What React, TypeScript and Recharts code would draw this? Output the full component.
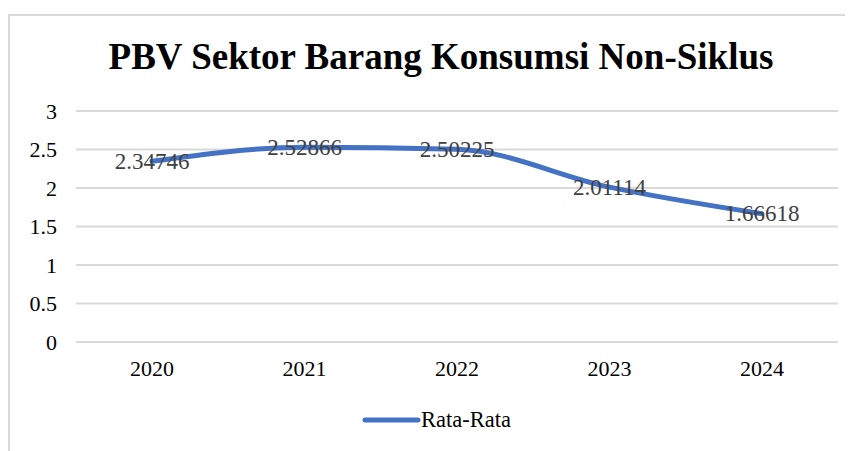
import { LineChart, Line, XAxis, YAxis, CartesianGrid, LabelList } from "recharts";

// Data
const years = ["2020", "2021", "2022", "2023", "2024"];
const rataRata = [2.34746, 2.52866, 2.50225, 2.01114, 1.66618];
const yTicks = [0, 0.5, 1, 1.5, 2, 2.5, 3];

const data = years.map((year, i) => ({ year, value: rataRata[i] }));

const FONT = "'Liberation Serif', 'Times New Roman', serif";
const BLUE = "#4472C4";

const PointLabel = (props: any) => {
  const { x, y, value } = props;
  return (
    <text
      x={x}
      y={y}
      textAnchor="middle"
      dominantBaseline="central"
      fill="#404040"
      fontSize={23}
      fontFamily={FONT}
    >
      {value}
    </text>
  );
};

const LegendBox = () => (
  <div
    style={{
      display: "flex",
      justifyContent: "center",
      alignItems: "center",
      fontFamily: FONT,
      fontSize: 22.5,
      color: "#000",
    }}
  >
    <svg width={60} height={10}>
      <line x1={4} y1={5} x2={57} y2={5} stroke={BLUE} strokeWidth={5} strokeLinecap="round" />
    </svg>
    <span>Rata-Rata</span>
  </div>
);

const App = () => {
  return (
    <div
      style={{
        position: "relative",
        width: 850,
        height: 440,
        marginTop: 6,
        border: "2px solid #d9d9d9",
        background: "#fff",
        fontFamily: FONT,
      }}
    >
      <div
        style={{
          position: "absolute",
          left: 0,
          width: 862,
          top: 19,
          textAlign: "center",
          fontWeight: "bold",
          fontSize: 37,
          color: "#000",
          whiteSpace: "nowrap",
        }}
      >
        PBV Sektor Barang Konsumsi Non-Siklus
      </div>
      <LineChart
        width={850}
        height={440}
        data={data}
        margin={{ top: 95, right: 22, left: 0, bottom: 84 }}
      >
        <CartesianGrid vertical={false} stroke="#d9d9d9" strokeWidth={2} />
        <XAxis
          dataKey="year"
          axisLine={false}
          tickLine={false}
          tickMargin={12}
          padding={{ left: 76, right: 76 }}
          tick={{ fill: "#000", fontSize: 22, fontFamily: FONT }}
        />
        <YAxis
          width={66}
          domain={[0, 3]}
          ticks={yTicks}
          axisLine={false}
          tickLine={false}
          tickMargin={13}
          tick={{ fill: "#000", fontSize: 22, fontFamily: FONT }}
        />
        <Line
          type="monotone"
          dataKey="value"
          stroke={BLUE}
          strokeWidth={5}
          strokeLinecap="round"
          dot={false}
          isAnimationActive={false}
        >
          <LabelList dataKey="value" content={PointLabel} />
        </Line>
      </LineChart>
      <div style={{ position: "absolute", left: 0, width: 852, top: 391 }}>
        <LegendBox />
      </div>
    </div>
  );
};

export default App;
